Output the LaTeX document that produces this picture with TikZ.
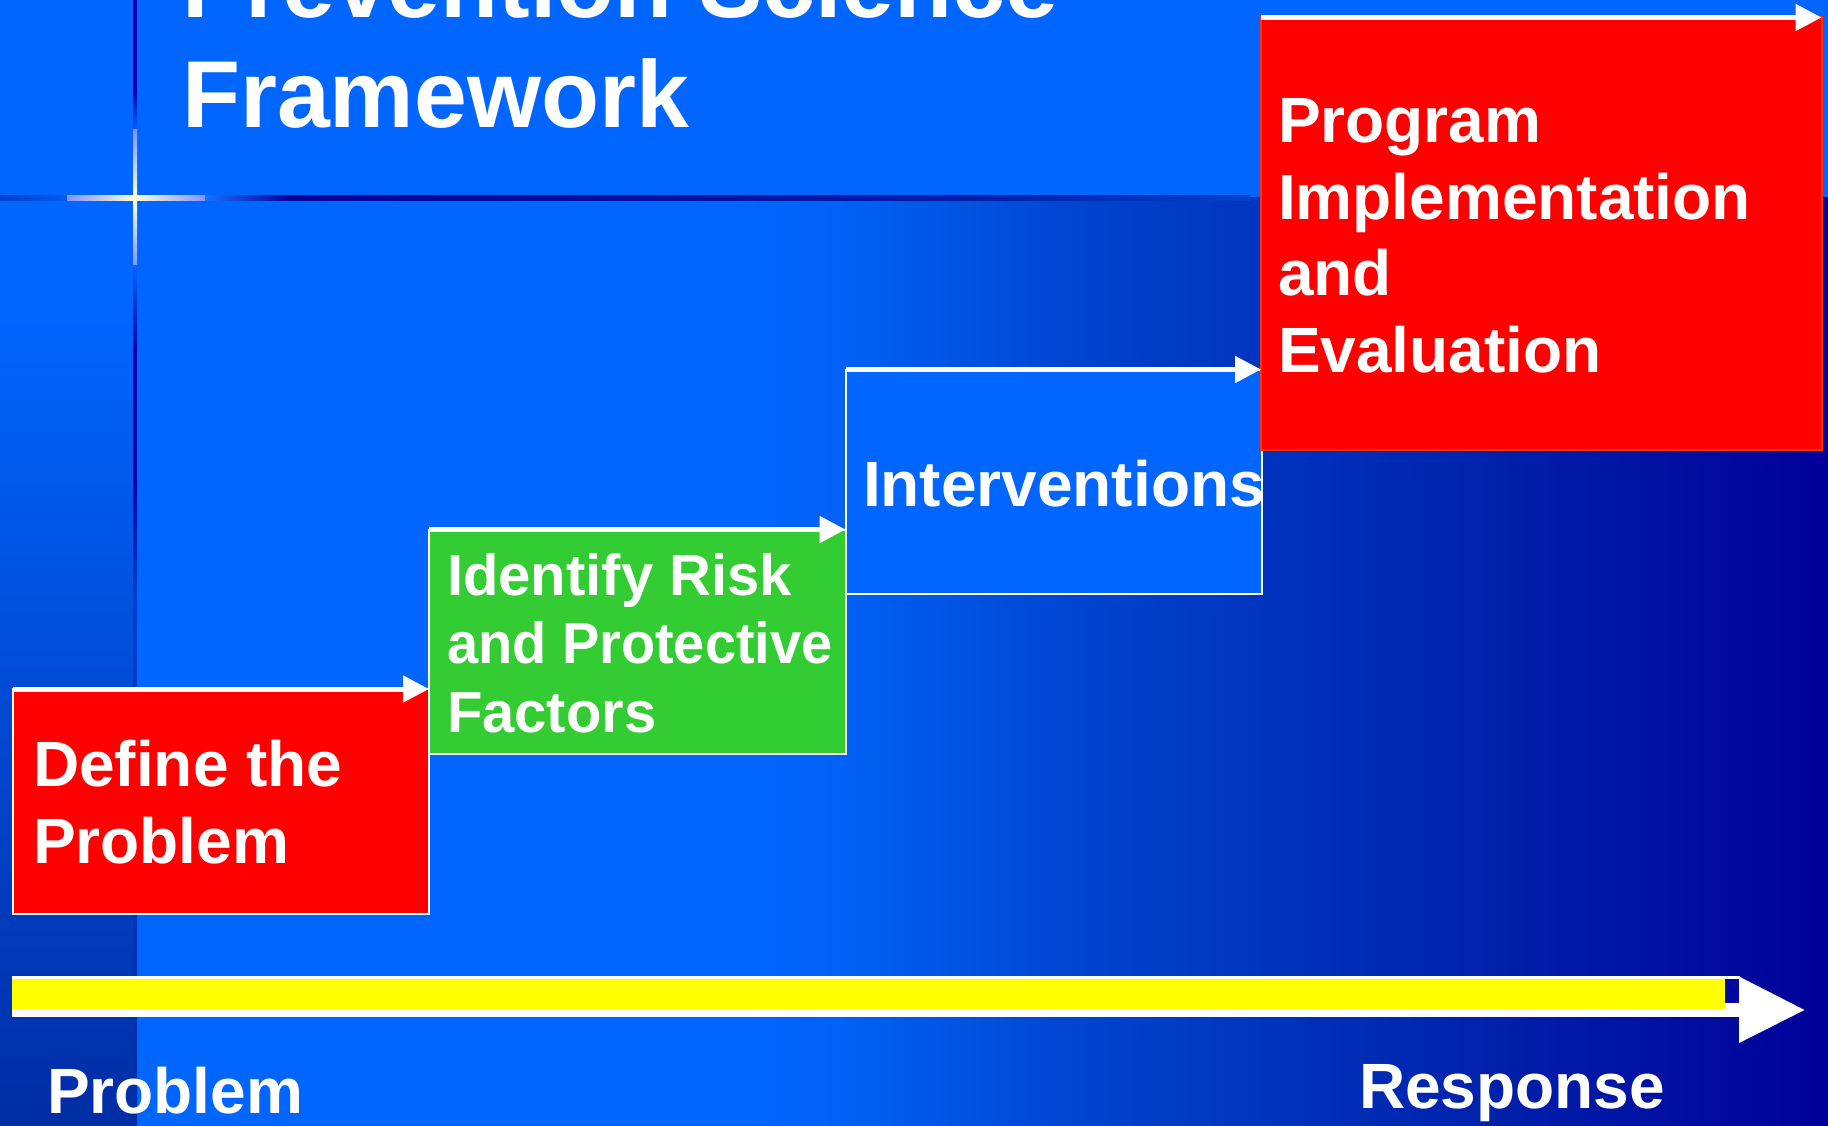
\documentclass[tikz,border=0pt]{standalone}
\usepackage{graphicx}
\usepackage{fontspec}
\setmainfont{Liberation Sans}
\usetikzlibrary{arrows.meta}
\definecolor{topblue}{HTML}{0066FF}
\definecolor{bgA}{HTML}{0066FF}
\definecolor{bgB}{HTML}{0060F4}
\definecolor{bgC}{HTML}{0042CC}
\definecolor{bgD}{HTML}{0020AA}
\definecolor{bgE}{HTML}{000099}
\definecolor{stripbot}{HTML}{002DA5}
\definecolor{navy}{HTML}{0000AA}
\definecolor{glint}{HTML}{FFFFD0}
\definecolor{lav}{HTML}{8095FF}
\definecolor{midblue}{HTML}{0040D0}
\definecolor{boxred}{HTML}{FF0000}
\definecolor{boxredline}{HTML}{FF3311}
\definecolor{boxgreen}{HTML}{33CC33}
\definecolor{boxblue}{HTML}{0066FF}
\definecolor{barYellow}{HTML}{FFFF00}
\definecolor{gapnavy}{HTML}{0008A0}
\begin{document}
\begin{tikzpicture}[x=1pt,y=-1pt,
  box/.style={rectangle, draw=white, line width=2pt, inner sep=0pt, outer sep=0pt, anchor=north west},
  flow/.style={draw=white, line width=5pt, -{Triangle[length=26pt,width=26pt]}},
  lbl/.style={text=white, font=\bfseries\fontsize{64}{76.5}\selectfont, align=left, anchor=base west, inner sep=0pt, outer sep=0pt},
  lblsmall/.style={lbl, font=\bfseries\fontsize{58}{68.5}\selectfont},
  titlelbl/.style={lbl, font=\bfseries\fontsize{95}{110}\selectfont}
]
\useasboundingbox (0,0) rectangle (1828,1126);
\clip (0,0) rectangle (1828,1126);
% background
\fill[topblue] (0,0) rectangle (1828,198);
\fill[bgA] (133,198) rectangle (750,1126);
\shade[left color=bgA, right color=bgB] (749,198) rectangle (851,1126);
\shade[left color=bgB, right color=bgC] (850,198) rectangle (1101,1126);
\shade[left color=bgC, right color=bgD] (1100,198) rectangle (1501,1126);
\shade[left color=bgD, right color=bgE] (1500,198) rectangle (1828,1126);
\fill[bgA] (0,198) rectangle (134,300.5);
\shade[top color=bgA, bottom color=stripbot] (0,300) rectangle (134,1126);
% horizontal glint line
\shade[left color=midblue, right color=bgA!70!midblue] (0,196) rectangle (67.5,201);
\shade[left color=lav, right color=glint] (67,196) rectangle (135.5,201);
\shade[left color=glint, right color=lav] (135,196) rectangle (205.5,201);
\shade[left color=bgA!80!lav, right color=bgE] (205,196) rectangle (290.5,201);
\shade[left color=bgE, right color=bgD] (290,196) rectangle (1000.5,201);
\shade[left color=bgD, right color=bgC] (1000,196) rectangle (1250,201);
% vertical glint line
\fill[navy] (133,0) rectangle (137,90.5);
\shade[top color=navy, bottom color=bgA] (133,90) rectangle (137,130.5);
\shade[top color=lav, bottom color=glint] (133,130) rectangle (137,196.5);
\fill[glint] (133,196) rectangle (137,201);
\shade[top color=glint, bottom color=lav] (133,200.5) rectangle (137,265.5);
\shade[top color=bgA, bottom color=navy] (133,265) rectangle (137,350.5);
\fill[navy] (133,350) rectangle (137,480.5);
\shade[top color=navy, bottom color=midblue] (133,480) rectangle (137,600.5);
\shade[top color=midblue, bottom color=stripbot] (133,600) rectangle (137,1126);
% title (anchor at last line baseline)
\node[titlelbl] (title) at (182,128) {Prevention Science\\Framework};
% boxes
\node[box, fill=boxred, minimum width=416.5pt, minimum height=225pt] (b1) at (12.5,689) {};
\node[box, fill=boxgreen, minimum width=416.5pt, minimum height=224.5pt] (b2) at (429,529.5) {};
\node[box, fill=boxblue, minimum width=416pt, minimum height=224.5pt] (b3) at (845.5,369.5) {};
\node[box, fill=boxred, draw=boxredline, minimum width=560.5pt, minimum height=432.5pt] (b4) at (1261,17.5) {};
% step arrows
\draw[flow] (b1.north west) -- (b1.north west -| b2.west);
\draw[flow] (b2.north west) -- (b2.north west -| b3.west);
\draw[flow] (b3.north west) -- (b3.north west -| b4.west);
\draw[flow] (b4.north west) -- (b4.north east);
% box texts (anchor at last line baseline)
\node[lbl] (t1) at (33,863) {Define the\\Problem};
\node[lblsmall] (t2) at (447,732) {Identify Risk\\\scalebox{0.965}[1]{and Protective}\\Factors};
\node[lbl] (t3) at (863,506) {Interventions};
\node[lbl] (t4) at (1278,372) {Program\\Implementation\\and\\Evaluation};
% timeline arrow
\fill[white] (12,976) rectangle (1739.5,1017);
\fill[barYellow] (12,978.5) rectangle (1725,1009);
\fill[gapnavy] (1725,978.5) rectangle (1739.5,1003);
\fill[white] (1739,976.5) -- (1804.5,1010) -- (1739,1043) -- cycle;
% bottom labels
\node[lbl] (lp) at (47,1113) {Problem};
\node[lbl] (lr) at (1359,1108) {Response};
\end{tikzpicture}
\end{document}
